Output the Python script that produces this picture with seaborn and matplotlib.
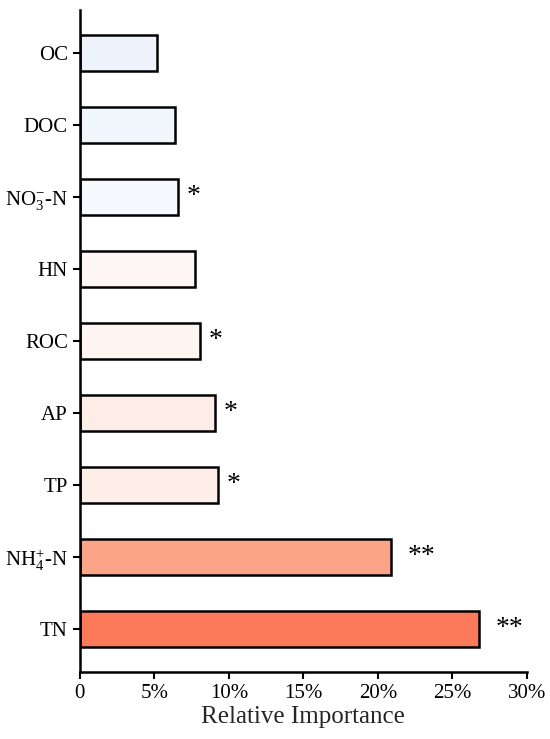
import matplotlib
matplotlib.use("Agg")
import matplotlib.pyplot as plt
import seaborn as sns
import pandas as pd

categories = ["OC", "DOC", "NO$_3^{-}$-N", "HN", "ROC", "AP", "TP", "NH$_4^{+}$-N", "TN"]
values = [5.2, 6.4, 6.6, 7.7, 8.1, 9.1, 9.3, 20.9, 26.8]
signif = ["", "", "*", "", "*", "*", "*", "**", "**"]
colors = ["#EEF3FB", "#F1F6FC", "#F5F8FD", "#FEF6F5", "#FEF5F3", "#FEEDE7", "#FEEEE8", "#FCA488", "#FC7A5A"]
xticks = [0, 5, 10, 15, 20, 25, 30]
xticklabels = ["0", "5%", "10%", "15%", "20%", "25%", "30%"]

sns.set_theme(style="ticks")
plt.rcParams["font.family"] = ["Liberation Serif", "DejaVu Serif"]
plt.rcParams["mathtext.fontset"] = "custom"
plt.rcParams["mathtext.rm"] = "Liberation Serif"
plt.rcParams["mathtext.it"] = "Liberation Serif:italic"

df = pd.DataFrame({"cat": categories, "val": values})

fig = plt.figure(figsize=(5.5, 7.39), dpi=100)
ax = fig.add_axes([0.145, 0.0907, 0.813, 0.896])
sns.barplot(data=df, y="cat", x="val", hue="cat", palette=dict(zip(categories, colors)),
            order=categories, orient="h", width=0.5, edgecolor="black", linewidth=1.8,
            saturation=1, legend=False, ax=ax)

for i, (v, s) in enumerate(zip(values, signif)):
    if s:
        off = 0.55 if len(s) == 1 else 1.1
        ax.text(v + off, i, s, ha="left", va="center", fontsize=20, color="black")

ax.set_xlim(0, 30)
ax.set_ylim(8.6, -0.6)
ax.set_xticks(xticks)
ax.set_xticklabels(xticklabels)
ax.set_ylabel("")
ax.set_xlabel("Relative Importance", fontsize=18, labelpad=2)
ax.tick_params(axis="both", labelsize=15, width=1.5, length=5, color="black", labelcolor="black")
for sp in ["top", "right"]:
    ax.spines[sp].set_visible(False)
for sp in ["left", "bottom"]:
    ax.spines[sp].set_linewidth(1.8)
    ax.spines[sp].set_color("black")

fig.savefig("out.png", dpi=100)
